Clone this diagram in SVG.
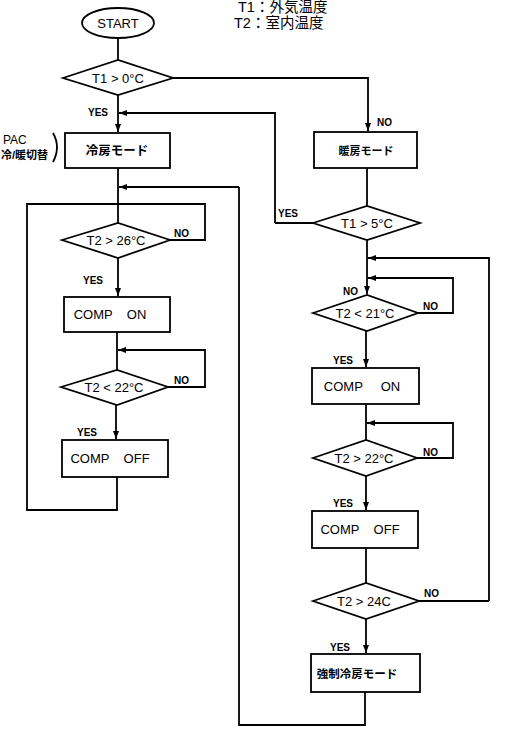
<svg xmlns="http://www.w3.org/2000/svg" width="510" height="731" viewBox="0 0 510 731">
<defs>
<marker id="arr" markerWidth="8" markerHeight="6" refX="8" refY="3" orient="auto" markerUnits="userSpaceOnUse">
<path d="M0,0 L8,3 L0,6 Z" fill="#000"/>
</marker>
<style>
.s{fill:#fff;stroke:#000;stroke-width:1.8}
.c{fill:none;stroke:#000;stroke-width:1.8}
.t{font-family:"Liberation Sans","Noto Sans CJK JP",sans-serif;font-size:13px;fill:#000;text-anchor:middle;white-space:pre}
.j{font-family:"Noto Sans CJK JP","Liberation Sans",sans-serif;font-weight:bold;fill:#000;text-anchor:middle}
.l{font-family:"Liberation Sans",sans-serif;font-size:10px;font-weight:bold;fill:#000}
.h{font-family:"Liberation Sans","Noto Sans CJK JP",sans-serif;fill:#000}
</style>
</defs>
<rect width="510" height="731" fill="#fff"/>

<g id="legend">
<text class="h" x="238" y="12" font-size="14.5">T1：外気温度</text>
<text class="h" x="234" y="28" font-size="14.5">T2：室内温度</text>
</g>
<g id="pac-label">
<text class="h" x="3" y="144" font-size="12">PAC</text>
<text class="h" x="1" y="159" font-size="11" font-weight="bold">冷/暖切替</text>
<path d="M53,133 Q61,147 53,162" fill="none" stroke="#000" stroke-width="1.8"/>
</g>

<g id="connectors">
<path class="c" d="M118,38 V60"/>
<path class="c" d="M118,95 V132" marker-end="url(#arr)"/>
<path class="c" d="M275,223 V113 H119" marker-end="url(#arr)"/>
<path class="c" d="M313,223 H275"/>
<path class="c" d="M173,78 H368 V131" marker-end="url(#arr)"/>
<path class="c" d="M118,168 V223"/>
<path class="c" d="M239,187 H119" marker-end="url(#arr)"/>
<path class="c" d="M170,240 H205 V204 H27 V510 H117 V477"/>
<path class="c" d="M118,258 V296" marker-end="url(#arr)"/>
<path class="c" d="M117,332 V370"/>
<path class="c" d="M168,387 H205 V350 H118" marker-end="url(#arr)"/>
<path class="c" d="M116,405 V439" marker-end="url(#arr)"/>
<path class="c" d="M367,168 V206"/>
<path class="c" d="M367,240 V294" marker-end="url(#arr)"/>
<path class="c" d="M489,601 V258 H368" marker-end="url(#arr)"/>
<path class="c" d="M419,601 H489"/>
<path class="c" d="M418,313 H453 V278 H368" marker-end="url(#arr)"/>
<path class="c" d="M366,331 V367" marker-end="url(#arr)"/>
<path class="c" d="M366,404 V440"/>
<path class="c" d="M417,458 H453 V423 H367" marker-end="url(#arr)"/>
<path class="c" d="M366,476 V510" marker-end="url(#arr)"/>
<path class="c" d="M366,548 V583"/>
<path class="c" d="M366,619 V653" marker-end="url(#arr)"/>
<path class="c" d="M365,692 V725 H239 V187"/>
<text class="l" x="88" y="116">YES</text>
<text class="l" x="377" y="126">NO</text>
<text class="l" x="278" y="217">YES</text>
<text class="l" x="174" y="237">NO</text>
<text class="l" x="83" y="284">YES</text>
<text class="l" x="174" y="384">NO</text>
<text class="l" x="77" y="436">YES</text>
<text class="l" x="343" y="295">NO</text>
<text class="l" x="423" y="310">NO</text>
<text class="l" x="333" y="364">YES</text>
<text class="l" x="423" y="456">NO</text>
<text class="l" x="333" y="507">YES</text>
<text class="l" x="424" y="597">NO</text>
<text class="l" x="330" y="651">YES</text>
</g>

<g id="start">
<ellipse class="s" cx="118" cy="23" rx="36" ry="15"/>
<text class="t" x="118" y="28">START</text>
</g>
<g id="d-t1-0">
<polygon class="s" points="63,78 118,60 173,78 118,95"/>
<text class="t" x="118" y="83">T1 &gt; 0°C</text>
</g>
<g id="cool-mode">
<rect class="s" x="65" y="133" width="105" height="35"/>
<text class="j" x="117" y="155" font-size="12.5">冷房モード</text>
</g>
<g id="d-t2-26">
<polygon class="s" points="62,240 118,223 170,240 118,258"/>
<text class="t" x="116" y="245">T2 &gt; 26°C</text>
</g>
<g id="comp-on-l">
<rect class="s" x="64" y="297" width="106" height="35"/>
<text class="t" x="110" y="319">COMP    ON</text>
</g>
<g id="d-t2-22l">
<polygon class="s" points="61,387 117,370 168,387 117,405"/>
<text class="t" x="114" y="392">T2 &lt; 22°C</text>
</g>
<g id="comp-off-l">
<rect class="s" x="62" y="440" width="106" height="37"/>
<text class="t" x="110" y="463">COMP    OFF</text>
</g>

<g id="heat-mode">
<rect class="s" x="314" y="132" width="103" height="36"/>
<text class="j" x="366" y="155" font-size="11">暖房モード</text>
</g>
<g id="d-t1-5">
<polygon class="s" points="313,223 367,206 420,223 367,240"/>
<text class="t" x="367" y="228">T1 &gt; 5°C</text>
</g>
<g id="d-t2-21">
<polygon class="s" points="313,313 367,295 418,313 367,331"/>
<text class="t" x="365" y="318">T2 &lt; 21°C</text>
</g>
<g id="comp-on-r">
<rect class="s" x="312" y="368" width="107" height="36"/>
<text class="t" x="362" y="391">COMP     ON</text>
</g>
<g id="d-t2-22r">
<polygon class="s" points="313,458 366,440 417,458 366,476"/>
<text class="t" x="364" y="463">T2 &gt; 22°C</text>
</g>
<g id="comp-off-r">
<rect class="s" x="312" y="511" width="106" height="37"/>
<text class="t" x="360" y="534">COMP    OFF</text>
</g>
<g id="d-t2-24">
<polygon class="s" points="313,601 366,583 419,601 366,619"/>
<text class="t" x="364" y="606">T2 &gt; 24C</text>
</g>
<g id="forced-cool">
<rect class="s" x="311" y="654" width="109" height="38"/>
<text class="j" x="357" y="678" font-size="11.5">強制冷房モード</text>
</g>
</svg>
